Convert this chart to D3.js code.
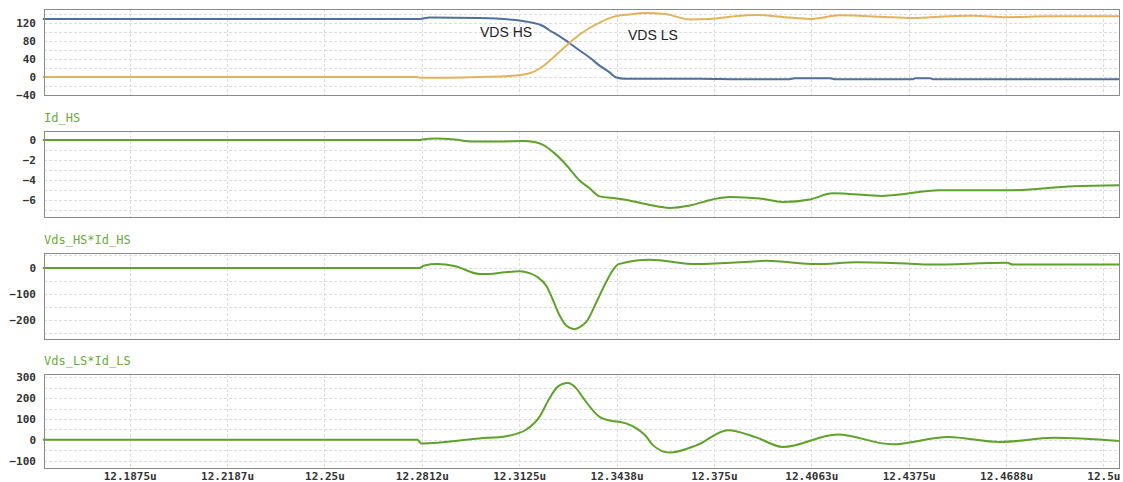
<!DOCTYPE html>
<html>
<head>
<meta charset="utf-8">
<script src="https://cdn.jsdelivr.net/npm/d3@7/dist/d3.min.js"></script>
<style>
  html, body { margin: 0; padding: 0; background: #fff; }
  svg { display: block; }
</style>
</head>
<body>
<svg id="chart" width="1123" height="482"></svg>
<script>
// Time axis (microseconds)
const timeDomain = [12.16, 12.505];
const timeTickValues = [12.1875, 12.21875, 12.25, 12.28125, 12.3125, 12.34375, 12.375, 12.40625, 12.4375, 12.46875, 12.5];
const timeTickLabels = ["12.1875u", "12.2187u", "12.25u", "12.2812u", "12.3125u", "12.3438u", "12.375u", "12.4063u", "12.4375u", "12.4688u", "12.5u"];

// Drain-source voltage, high side
const vdsHsTime = [12.1596, 12.2805, 12.2837, 12.2997, 12.3094, 12.3158, 12.3200, 12.3222, 12.3254, 12.3286, 12.3318, 12.3351, 12.3383, 12.3415, 12.3437, 12.3463, 12.3704, 12.3833, 12.3993, 12.4009, 12.4122, 12.4138, 12.4389, 12.4395, 12.4443, 12.4453, 12.5052];
const vdsHsValue = [128, 128, 131, 130, 127, 121, 113, 103, 90, 75, 59, 43, 25, 10, -1.5, -4, -4, -5, -5, -3, -3, -5, -5, -3, -3, -5, -5];

// Drain-source voltage, low side
const vdsLsTime = [12.1596, 12.2798, 12.2811, 12.2997, 12.3094, 12.3158, 12.3190, 12.3222, 12.3254, 12.3286, 12.3318, 12.3351, 12.3383, 12.3424, 12.3479, 12.3534, 12.3592, 12.3673, 12.3736, 12.3801, 12.3888, 12.3977, 12.4058, 12.4154, 12.4283, 12.4389, 12.4507, 12.4581, 12.4691, 12.4829, 12.5052];
const vdsLsValue = [0, 0, -2, 0, 2, 8, 18, 35, 55, 75, 93, 108, 120, 132, 138, 141, 139, 127, 128, 133, 137, 132, 128, 136, 133, 130, 134, 135, 132, 134, 134];

// Drain current, high side
const idHsTime = [12.1596, 12.2805, 12.2814, 12.2859, 12.2917, 12.2975, 12.3062, 12.3136, 12.3174, 12.3200, 12.3238, 12.3277, 12.3318, 12.3351, 12.3383, 12.3437, 12.3479, 12.3544, 12.3608, 12.3673, 12.3746, 12.3801, 12.3897, 12.3971, 12.4058, 12.4131, 12.4292, 12.4475, 12.4691, 12.4904, 12.5052];
const idHsValue = [0, 0, 0.05, 0.15, 0.05, -0.15, -0.15, -0.1, -0.2, -0.45, -1.3, -2.5, -4.0, -4.8, -5.6, -5.8, -6.0, -6.45, -6.75, -6.5, -5.9, -5.65, -5.8, -6.15, -5.9, -5.3, -5.55, -5.0, -5.0, -4.6, -4.5];

// Switching power, high side
const pHsTime = [12.1596, 12.2805, 12.2821, 12.2862, 12.2917, 12.2997, 12.3029, 12.3078, 12.3126, 12.3158, 12.3181, 12.3213, 12.3232, 12.3254, 12.3277, 12.3302, 12.3318, 12.3341, 12.3373, 12.3405, 12.3431, 12.3444, 12.3544, 12.3695, 12.3888, 12.3919, 12.4080, 12.4209, 12.4369, 12.4443, 12.4691, 12.4710, 12.5052];
const pHsValue = [0, 0, 10, 15, 8, -23, -23, -17, -13, -20, -33, -71, -120, -182, -224, -237, -230, -208, -132, -52, 0, 15, 32, 15, 26, 28, 15, 22, 17, 13, 20, 13, 13];

// Switching power, low side
const pLsTime = [12.1596, 12.2798, 12.2811, 12.2997, 12.3084, 12.3148, 12.3190, 12.3222, 12.3248, 12.3280, 12.3309, 12.3328, 12.3383, 12.3424, 12.3447, 12.3489, 12.3534, 12.3554, 12.3608, 12.3695, 12.3795, 12.3888, 12.3971, 12.4147, 12.4321, 12.4501, 12.4668, 12.4840, 12.5052];
const pLsValue = [0, 0, -18, 6, 17, 49, 110, 198, 254, 273, 246, 206, 110, 90, 86, 65, 13, -26, -62, -26, 46, 10, -35, 25, -22, 13, -11, 9, -6];

const svg = d3.select("#chart");
const left = 44, right = 1119;
const x = d3.scaleLinear().domain(timeDomain).range([left, right]);

const tickFont = "'DejaVu Sans Mono', monospace";
const green = "#5ea22a";

const panels = [
  { top: 9, bottom: 95, domain: [-40, 150], ticks: [-40, 0, 40, 80, 120], step: 20, title: null,
    series: [
      { t: vdsHsTime, v: vdsHsValue, color: "#4f6f9f" },
      { t: vdsLsTime, v: vdsLsValue, color: "#e2b25c" }
    ] },
  { top: 131, bottom: 217, domain: [-7.65, 0.9], ticks: [-6, -4, -2, 0], step: 1, title: "Id_HS",
    series: [{ t: idHsTime, v: idHsValue, color: green }] },
  { top: 253, bottom: 339, domain: [-275, 58], ticks: [-200, -100, 0], step: 50, title: "Vds_HS*Id_HS",
    series: [{ t: pHsTime, v: pHsValue, color: green }] },
  { top: 374, bottom: 468, domain: [-136, 316], ticks: [-100, 0, 100, 200, 300], step: 50, title: "Vds_LS*Id_LS",
    series: [{ t: pLsTime, v: pLsValue, color: green }] }
];

panels.forEach((p, i) => {
  const y = d3.scaleLinear().domain(p.domain).range([p.bottom, p.top]);
  const g = svg.append("g");

  // horizontal dashed grid
  const gridVals = d3.range(Math.ceil(p.domain[0] / p.step) * p.step, p.domain[1], p.step);
  g.selectAll(".hgrid").data(gridVals).join("line")
    .attr("x1", left).attr("x2", right)
    .attr("y1", d => Math.round(y(d)) + 0.5).attr("y2", d => Math.round(y(d)) + 0.5)
    .attr("stroke", "#dcdcdc").attr("stroke-width", 1).attr("stroke-dasharray", "3,2");

  // vertical dashed grid
  g.selectAll(".vgrid").data(timeTickValues).join("line")
    .attr("x1", d => Math.round(x(d)) + 0.5).attr("x2", d => Math.round(x(d)) + 0.5)
    .attr("y1", p.top).attr("y2", p.bottom)
    .attr("stroke", "#dcdcdc").attr("stroke-width", 1).attr("stroke-dasharray", "3,2");

  // y axis labels
  const yAxis = d3.axisLeft(y).tickValues(p.ticks).tickSize(0).tickPadding(8).tickFormat(d3.format("d"));
  const ya = g.append("g").attr("transform", `translate(${left},0)`).call(yAxis);
  ya.select(".domain").remove();
  ya.selectAll("text").attr("font-family", tickFont).attr("font-size", 11)
    .attr("font-weight", "bold").attr("fill", "#333");

  // traces
  p.series.forEach(s => {
    const pts = s.t.map((t, k) => [t, s.v[k]]);
    const line = d3.line().x(d => x(d[0])).y(d => y(d[1])).curve(d3.curveMonotoneX);
    g.append("path").attr("d", line(pts))
      .attr("fill", "none").attr("stroke", s.color).attr("stroke-width", 2)
      .attr("stroke-linejoin", "round");
  });

  // frame
  g.append("rect").attr("x", left + 0.5).attr("y", p.top + 0.5)
    .attr("width", right - left).attr("height", p.bottom - p.top)
    .attr("fill", "none").attr("stroke", "#8a8a8a").attr("stroke-width", 1);

  if (p.title) {
    g.append("text").attr("x", left).attr("y", p.top - 9)
      .attr("font-family", tickFont).attr("font-size", 12)
      .attr("fill", "#6aab3c").text(p.title);
  }

  if (i === panels.length - 1) {
    const xAxis = d3.axisBottom(x).tickValues(timeTickValues).tickSize(0).tickPadding(4)
      .tickFormat((d, k) => timeTickLabels[k]);
    const xa = g.append("g").attr("transform", `translate(0,${p.bottom})`).call(xAxis);
    xa.select(".domain").remove();
    xa.selectAll("text").attr("font-family", tickFont).attr("font-size", 11)
      .attr("font-weight", "bold").attr("fill", "#333");
  }
});

// trace annotations in the voltage panel
svg.append("text").attr("x", 480).attr("y", 37).attr("font-family", "'Liberation Sans', Arial, sans-serif")
  .attr("font-size", 14).attr("fill", "#222").text("VDS HS");
svg.append("text").attr("x", 628).attr("y", 39.5).attr("font-family", "'Liberation Sans', Arial, sans-serif")
  .attr("font-size", 14).attr("fill", "#222").text("VDS LS");
</script>
</body>
</html>
